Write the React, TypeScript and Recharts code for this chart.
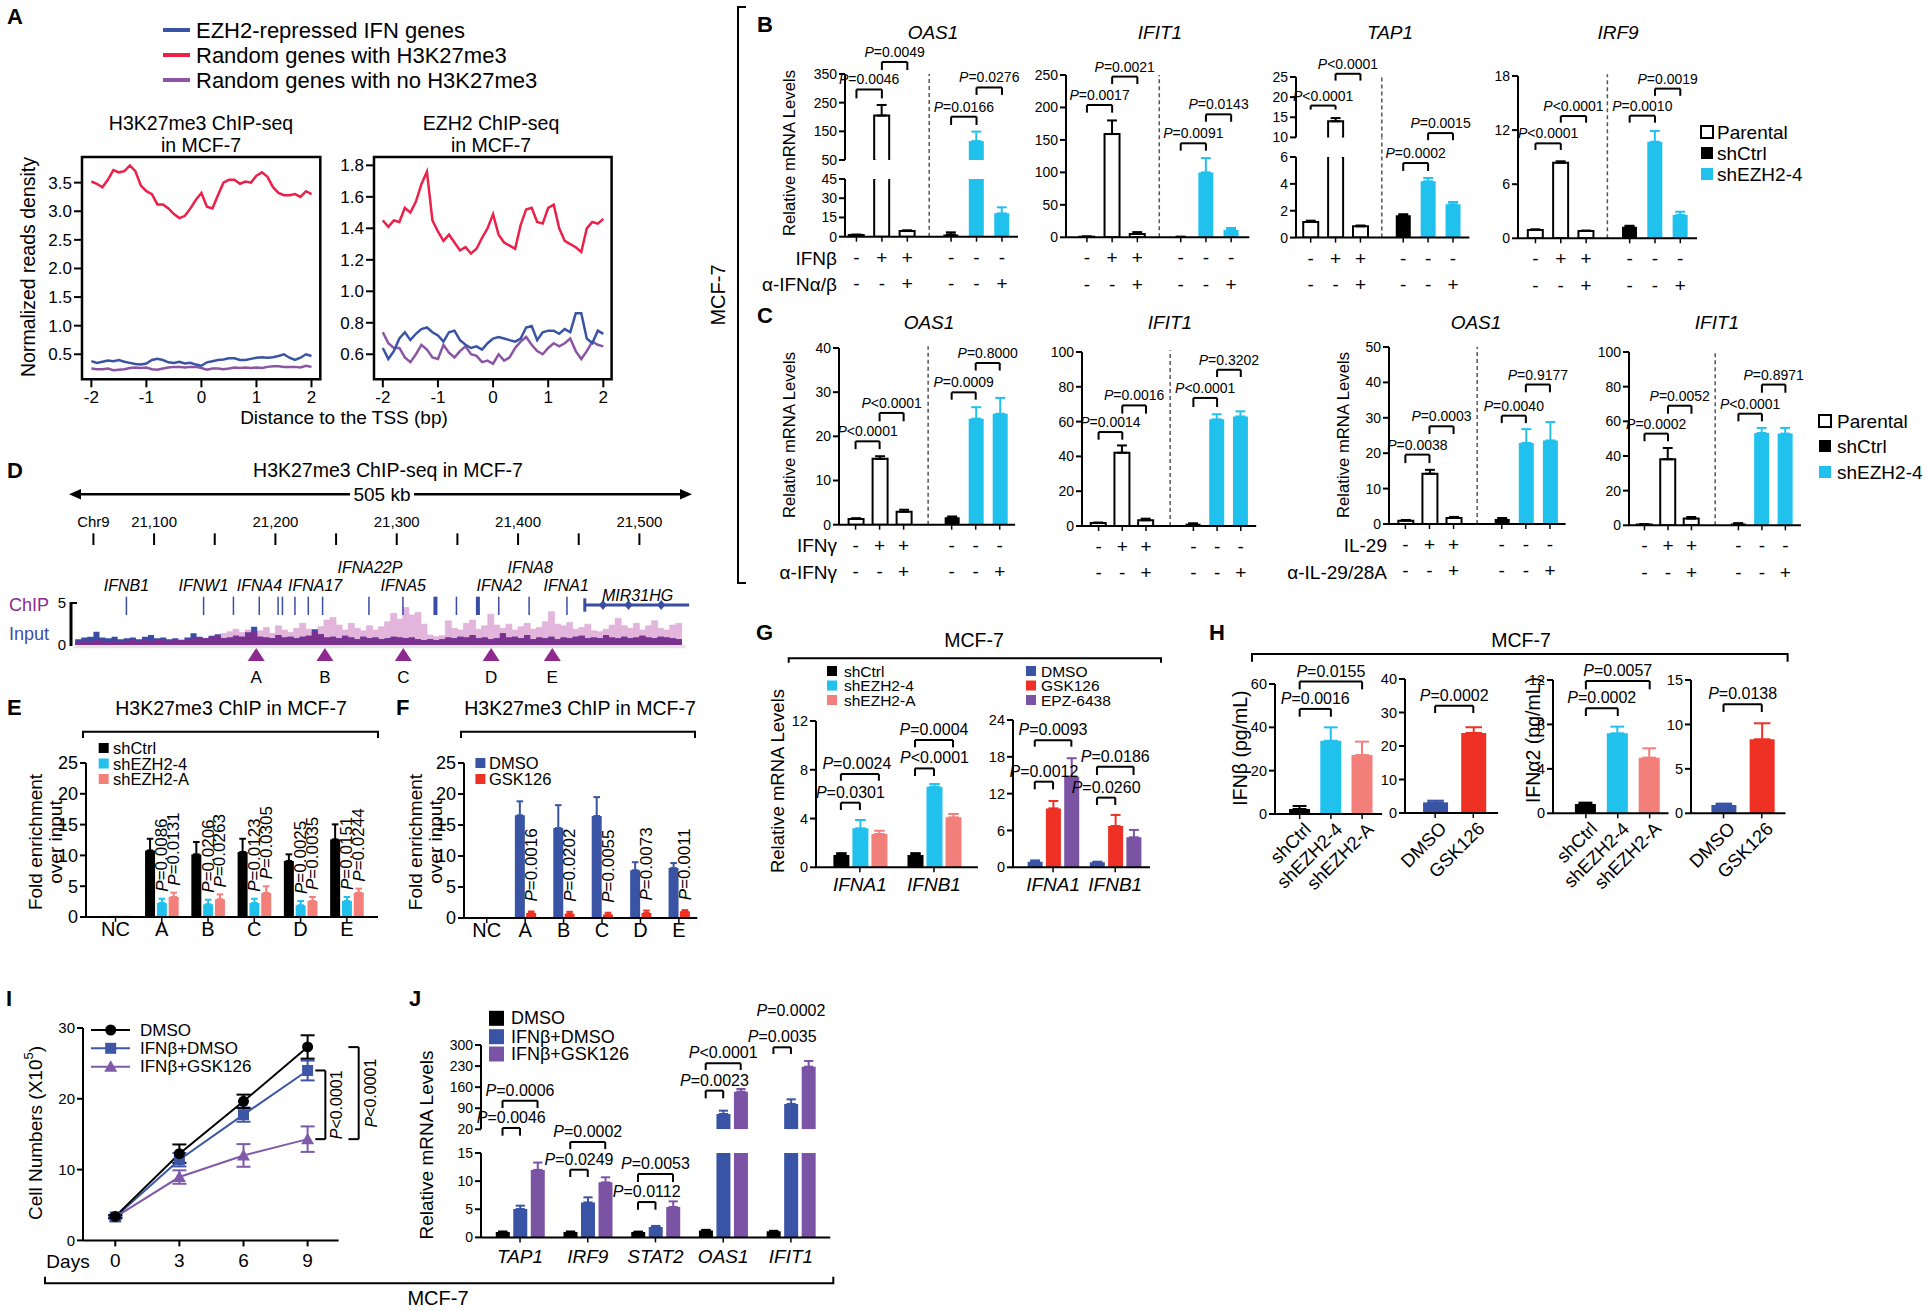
import React from 'react';
import {
  ComposedChart, Line, Bar, Area, Scatter, XAxis, YAxis, ErrorBar,
  ReferenceLine, ReferenceArea, LabelList,
} from 'recharts';

const FONT = '"Liberation Sans", Arial, Helvetica, sans-serif';

// ---------- A: ChIP-seq profiles around the TSS ----------
const tss = [-2, -1.9, -1.8, -1.7, -1.6, -1.5, -1.4, -1.3, -1.2, -1.1, -1, -0.9, -0.8, -0.7, -0.6, -0.5, -0.4, -0.3, -0.2, -0.1, 0, 0.1, 0.2, 0.3, 0.4, 0.5, 0.6, 0.7, 0.8, 0.9, 1, 1.1, 1.2, 1.3, 1.4, 1.5, 1.6, 1.7, 1.8, 1.9, 2];
const k27Rand = [3.52, 3.48, 3.42, 3.55, 3.72, 3.68, 3.7, 3.8, 3.7, 3.45, 3.35, 3.3, 3.12, 3.12, 3.05, 2.95, 2.88, 2.92, 3.05, 3.2, 3.32, 3.08, 3.05, 3.28, 3.5, 3.55, 3.55, 3.48, 3.52, 3.5, 3.62, 3.68, 3.6, 3.42, 3.32, 3.28, 3.28, 3.3, 3.25, 3.35, 3.3];
const k27Ifn = [0.38, 0.35, 0.37, 0.39, 0.38, 0.4, 0.37, 0.35, 0.33, 0.32, 0.34, 0.4, 0.42, 0.4, 0.36, 0.35, 0.37, 0.34, 0.35, 0.32, 0.3, 0.36, 0.38, 0.4, 0.41, 0.43, 0.43, 0.4, 0.4, 0.42, 0.44, 0.45, 0.44, 0.45, 0.47, 0.5, 0.44, 0.4, 0.44, 0.5, 0.47];
const k27None = [0.25, 0.24, 0.24, 0.25, 0.22, 0.23, 0.24, 0.26, 0.27, 0.26, 0.27, 0.24, 0.23, 0.25, 0.27, 0.28, 0.28, 0.27, 0.28, 0.28, 0.26, 0.23, 0.25, 0.25, 0.24, 0.25, 0.27, 0.26, 0.27, 0.26, 0.27, 0.26, 0.28, 0.29, 0.29, 0.28, 0.28, 0.28, 0.27, 0.3, 0.28];
const ezRand = [1.45, 1.41, 1.45, 1.44, 1.53, 1.5, 1.57, 1.68, 1.76, 1.45, 1.38, 1.32, 1.36, 1.31, 1.26, 1.28, 1.24, 1.27, 1.34, 1.4, 1.49, 1.36, 1.31, 1.29, 1.27, 1.42, 1.52, 1.53, 1.44, 1.43, 1.53, 1.55, 1.4, 1.32, 1.3, 1.28, 1.25, 1.4, 1.44, 1.43, 1.46];
const ezIfn = [0.64, 0.57, 0.62, 0.7, 0.74, 0.69, 0.73, 0.76, 0.77, 0.74, 0.72, 0.68, 0.74, 0.75, 0.69, 0.66, 0.64, 0.65, 0.63, 0.67, 0.7, 0.71, 0.7, 0.69, 0.68, 0.7, 0.77, 0.78, 0.69, 0.74, 0.75, 0.75, 0.73, 0.76, 0.74, 0.86, 0.86, 0.7, 0.67, 0.75, 0.73];
const ezNone = [0.74, 0.67, 0.64, 0.64, 0.58, 0.55, 0.6, 0.66, 0.63, 0.58, 0.57, 0.66, 0.61, 0.58, 0.62, 0.65, 0.6, 0.59, 0.55, 0.56, 0.54, 0.6, 0.56, 0.58, 0.64, 0.68, 0.71, 0.66, 0.62, 0.6, 0.64, 0.67, 0.65, 0.67, 0.7, 0.62, 0.57, 0.62, 0.68, 0.66, 0.65];

// ---------- B / C: treatments ----------
const treatRow1 = ['-', '+', '+', '-', '-', '-'];
const treatRow2 = ['-', '-', '+', '-', '-', '+'];
const treatKinds = ['w', 'w', 'w', 'k', 'c', 'c'];

const bOas1 = [1.3, 205, 4.4, 1.8, 116, 18.2];
const bOas1Err = [0.4, 37, 0.6, 1.6, 33, 4.7];
const bIfit1 = [1.0, 159, 5.0, 0.6, 100, 11.3];
const bIfit1Err = [0.3, 21, 3.0, 0.3, 22, 3.0];
const bTap1 = [1.16, 14.0, 0.84, 1.66, 4.19, 2.48];
const bTap1Err = [0.1, 0.8, 0.06, 0.08, 0.25, 0.17];
const bIrf9 = [0.92, 8.39, 0.81, 1.29, 10.71, 2.58];
const bIrf9Err = [0.08, 0.15, 0.05, 0.1, 1.2, 0.37];

const cOas1G = [1.28, 14.9, 2.94, 1.66, 24.0, 25.1];
const cOas1GErr = [0.2, 0.6, 0.45, 0.2, 2.6, 3.6];
const cIfit1G = [1.7, 42.1, 3.3, 1.3, 61.3, 63.0];
const cIfit1GErr = [0.3, 4.2, 0.9, 0.2, 2.9, 2.9];
const cOas1L = [0.94, 14.2, 1.7, 1.4, 22.9, 23.6];
const cOas1LErr = [0.2, 1.1, 0.3, 0.3, 3.9, 5.2];
const cIfit1L = [0.5, 38.1, 3.85, 1.0, 53.3, 52.9];
const cIfit1LErr = [0.1, 6.5, 0.95, 0.2, 2.9, 3.3];

// brackets: [barA, barB, height, legEnd, text, hidden, labelShiftPx]
const bOas1P = [[0, 1, 296, 265, '=0.0046'], [1, 2, 392, 364, '=0.0049'], [3, 4, 201, 172, '=0.0166'], [4, 5, 303, 277, '=0.0276']];
const bIfit1P = [[0, 1, 203.8, 192, '=0.0017'], [1, 2, 247.5, 236, '=0.0021'], [3, 4, 144.8, 133.5, '=0.0091'], [4, 5, 189.4, 178, '=0.0143']];
const bTap1PUp = [[0, 1, 17.9, 16.9, '<0.0001'], [1, 2, 25.8, 24.1, '<0.0001']];
const bTap1PLow = [[3, 4, 5.55, 4.96, '=0.0002'], [4, 5, 7.78, 7.25, '=0.0015']];
const bIrf9P = [[0, 1, 10.53, 9.8, '<0.0001'], [1, 2, 13.56, 12.82, '<0.0001'], [3, 4, 13.6, 12.82, '=0.0010'], [4, 5, 16.6, 15.8, '=0.0019']];
const cOas1GP = [[0, 1, 18.87, 17.1, '<0.0001'], [1, 2, 25.3, 23.4, '<0.0001'], [3, 4, 29.96, 28.3, '=0.0009'], [4, 5, 36.6, 34.9, '=0.8000']];
const cIfit1GP = [[0, 1, 54.0, 49.6, '=0.0014'], [1, 2, 69.3, 64.6, '=0.0016'], [3, 4, 73.6, 68.4, '<0.0001'], [4, 5, 89.8, 85.6, '=0.3202']];
const cOas1LP = [[0, 1, 19.6, 17.2, '=0.0038'], [1, 2, 27.6, 25.4, '=0.0003'], [3, 4, 30.6, 28.5, '=0.0040'], [4, 5, 39.4, 37.2, '=0.9177']];
const cIfit1LP = [[0, 1, 52.9, 48.5, '=0.0002'], [1, 2, 69.0, 64.4, '=0.0052'], [3, 4, 64.4, 60.0, '<0.0001'], [4, 5, 81.2, 76.5, '=0.8971']];

// ---------- D: genome track ----------
const dKb = [21035, 21040, 21045, 21050, 21055, 21060, 21065, 21070, 21075, 21080,
  21085, 21090, 21095, 21100, 21105, 21110, 21115, 21120, 21125, 21130,
  21135, 21140, 21145, 21150, 21155, 21160, 21165, 21170, 21175, 21180,
  21185, 21190, 21195, 21200, 21205, 21210, 21215, 21220, 21225, 21230,
  21235, 21240, 21245, 21250, 21255, 21260, 21265, 21270, 21275, 21280,
  21285, 21290, 21295, 21300, 21305, 21310, 21315, 21320, 21325, 21330,
  21335, 21340, 21345, 21350, 21355, 21360, 21365, 21370, 21375, 21380,
  21385, 21390, 21395, 21400, 21405, 21410, 21415, 21420, 21425, 21430,
  21435, 21440, 21445, 21450, 21455, 21460, 21465, 21470, 21475, 21480,
  21485, 21490, 21495, 21500, 21505, 21510, 21515, 21520, 21525, 21530, 21535];
const dInput = [0.7, 0.9, 1.0, 1.6, 0.9, 0.8, 1.0, 0.7, 0.8, 0.9,
  0.7, 1.0, 1.2, 0.8, 0.9, 0.7, 0.8, 0.6, 0.9, 1.4,
  1.0, 0.8, 1.1, 1.3, 0.8, 0.9, 1.1, 1.0, 1.5, 2.2,
  1.0, 0.9, 0.8, 1.2, 0.9, 1.0, 0.8, 1.0, 1.1, 1.9,
  1.3, 0.9, 1.0, 0.8, 1.1, 0.9, 0.7, 1.0, 0.8, 0.9,
  0.7, 0.8, 1.0, 0.9, 0.8, 0.9, 0.7, 0.6, 0.7, 0.6,
  0.7, 0.9, 0.8, 1.0, 0.9, 1.2, 0.8, 0.9, 0.7, 0.8,
  1.4, 0.9, 1.0, 0.8, 1.2, 0.7, 0.9, 0.8, 1.0, 0.7,
  0.9, 0.8, 1.0, 1.1, 0.8, 0.9, 0.8, 1.2, 0.9, 0.8,
  1.0, 0.8, 0.9, 1.1, 0.9, 0.8, 1.0, 0.9, 0.8, 0.7, 0.8];
const dChip = [0.4, 0.5, 0.4, 0.6, 0.5, 0.4, 0.5, 0.4, 0.5, 0.6,
  0.5, 0.6, 0.5, 0.6, 0.7, 0.5, 0.6, 0.7, 0.6, 0.8,
  0.9, 0.8, 1.0, 1.2, 1.4, 1.6, 1.9, 1.5, 1.8, 1.6,
  1.7, 2.1, 1.4, 2.3, 1.8, 1.5, 2.0, 2.6, 1.9, 1.6,
  2.2, 3.0, 3.3, 2.4, 1.8, 2.6, 2.0, 1.7, 2.3, 1.8,
  2.2, 2.8, 3.8, 3.1, 4.5, 3.6, 3.9, 2.5, 1.2, 1.0,
  1.1, 2.9, 2.0, 1.8, 2.6, 3.0, 1.9, 2.3, 3.7, 2.4,
  2.0, 2.5, 1.8, 2.2, 2.6, 1.9, 2.1, 2.8, 4.0, 2.5,
  2.3, 2.7, 1.9, 2.1, 2.5, 1.7, 1.6, 1.9, 2.4, 3.2,
  2.3, 2.0, 2.6, 1.8, 2.3, 2.9, 2.0, 1.8, 2.4, 2.6, 1.7];
const dRuler = [21050, 21100, 21150, 21200, 21250, 21300, 21350, 21400, 21450, 21500];
const dRulerLabels = ['Chr9', '21,100', '', '21,200', '', '21,300', '', '21,400', '', '21,500'];
const dGeneTicks = [21077.2, 21140.8, 21165.4, 21186.7, 21202.2, 21205.8, 21216.1, 21227.1, 21238.9, 21277.1, 21305.1, 21331.9, 21349.2, 21366.9, 21384.1, 21409.1, 21440.3];
const dGeneWide = [21331.9, 21366.9];
const dGeneNames = ['IFNB1', 'IFNW1', 'IFNA4', 'IFNA17', 'IFNA22P', 'IFNA5', 'IFNA2', 'IFNA8', 'IFNA1', 'MIR31HG'];
const dGeneNameKb = [21077.2, 21140.7, 21186.8, 21232.7, 21277.9, 21305.4, 21384.4, 21410, 21439.6, 21498.5];
const dGeneNameRow = [1, 1, 1, 1, 2, 1, 1, 2, 1, 0];
const dMir = [21455, 21541];
const dMirExons = [21470, 21491, 21518];
const dPeakNames = ['A', 'B', 'C', 'D', 'E'];
const dPeakKb = [21184.2, 21240.8, 21305.4, 21377.8, 21428.2];

// ---------- E / F: ChIP-qPCR ----------
const eGroups = ['NC', 'A', 'B', 'C', 'D', 'E'];
const eShCtrl = [0.1, 10.8, 10.17, 10.55, 9.09, 12.6];
const eShCtrlErr = [0, 1.9, 2.0, 2.15, 1.08, 2.44];
const eSh4 = [0.2, 2.27, 2.06, 2.27, 1.9, 2.6];
const eSh4Err = [0, 0.7, 0.75, 0.7, 0.7, 0.65];
const eShA = [0.2, 3.25, 2.87, 3.9, 2.6, 3.95];
const eShAErr = [0, 0.7, 0.8, 1.08, 0.65, 0.65];
const eP4 = ['', '=0.0086', '=0.0206', '=0.0123', '=0.0025', '=0.0151'];
const ePA = ['', '=0.0131', '=0.0263', '=0.0305', '=0.0035', '=0.0244'];
const fDmso = [0.1, 16.56, 14.5, 16.45, 7.7, 8.06];
const fDmsoErr = [0, 2.26, 3.7, 3.05, 1.3, 0.8];
const fGsk = [0.1, 0.8, 0.7, 0.55, 0.8, 1.07];
const fGskErr = [0, 0.25, 0.3, 0.3, 0.4, 0.2];
const fP = ['', '=0.0016', '=0.0202', '=0.0055', '=0.0073', '=0.0011'];

// ---------- G: IFN mRNA ----------
const gGenes = ['IFNA1', 'IFNB1'];
const gShCtrl = [1.01, 1.01]; const gShCtrlErr = [0.15, 0.15];
const gSh4 = [3.2, 6.61]; const gSh4Err = [0.68, 0.22];
const gShA = [2.73, 4.1]; const gShAErr = [0.27, 0.27];
const gDmso = [0.92, 0.81]; const gDmsoErr = [0.2, 0.1];
const gGsk = [9.6, 6.73]; const gGskErr = [1.2, 1.8];
const gEpz = [14.77, 4.89]; const gEpzErr = [3.0, 1.2];
const gKnockP = [[0, 1, 5.3, 4.7, '=0.0301'], [0, 2, 7.65, 7.1, '=0.0024', false, -3], [3, 4, 8.11, 7.49, '<0.0001', false, 10], [3, 5, 10.44, 9.84, '=0.0004']];
const gDrugP = [[0, 1, 13.95, 12.7, '=0.0012'], [0, 2, 20.7, 19.65, '=0.0093'], [3, 4, 11.35, 10.15, '=0.0260'], [3, 5, 16.4, 15.04, '=0.0186']];

// ---------- H: ELISA ----------
const hKnock = ['shCtrl', 'shEZH2-4', 'shEZH2-A'];
const hDrug = ['DMSO', 'GSK126'];
const hIfnbKnock = [2.3, 33.8, 27.2]; const hIfnbKnockErr = [1.4, 6.2, 6.2];
const hIfnbDrug = [3.18, 23.9]; const hIfnbDrugErr = [0.5, 1.7];
const hIfnaKnock = [0.84, 7.2, 5.01]; const hIfnaKnockErr = [0.12, 0.6, 0.84];
const hIfnaDrug = [0.94, 8.33]; const hIfnaDrugErr = [0.15, 1.8];
const hP1 = [[0, 1, 48.5, 44.9, '=0.0016'], [0, 2, 61.1, 57.5, '=0.0155']];
const hP2 = [[0, 1, 32.0, 29.85, '=0.0002']];
const hP3 = [[0, 1, 9.45, 8.76, '=0.0002'], [0, 2, 11.91, 11.16, '=0.0057']];
const hP4 = [[0, 1, 12.26, 11.4, '=0.0138']];

// ---------- I: growth ----------
const days = [0, 3, 6, 9];
const iDmso = [3.39, 12.25, 19.64, 27.32]; const iDmsoErr = [0.2, 1.3, 0.95, 1.65];
const iIfnDmso = [3.3, 11.4, 17.76, 24.0]; const iIfnDmsoErr = [0.2, 0.95, 1.0, 1.4];
const iIfnGsk = [3.3, 8.95, 12.0, 14.3]; const iIfnGskErr = [0.2, 0.95, 1.6, 1.8];

// ---------- J: ISG mRNA ----------
const jGenes = ['TAP1', 'IRF9', 'STAT2', 'OAS1', 'IFIT1'];
const jDmso = [0.95, 0.95, 0.95, 1.24, 1.07]; const jDmsoErr = [0.1, 0.1, 0.08, 0.1, 0.1];
const jIfnDmso = [5.04, 6.22, 1.84, 70.9, 104]; const jIfnDmsoErr = [0.6, 0.9, 0.2, 11, 15.5];
const jIfnGsk = [12.0, 9.78, 5.4, 145, 228]; const jIfnGskErr = [1.3, 0.9, 1.0, 9, 19];
const jPLow = [[0, 1, 19.44, 18.08, '=0.0046'], [0, 2, 24.3, 23.0, '=0.0006'], [3, 4, 12.03, 10.73, '=0.0249'], [3, 5, 16.95, 15.7, '=0.0002'], [6, 7, 6.28, 4.92, '=0.0112'], [6, 8, 11.26, 9.84, '=0.0053']];
const jPUp = [[9, 10, 148.4, 122.9, '=0.0023'], [9, 11, 239.1, 217, '<0.0001'], [12, 13, 292.3, 270, '=0.0035'], [12, 14, 380, 360, '=0.0002', true]];

const KIND: Record<string, any> = {
  w: { fill: '#ffffff', stroke: '#000000', sw: 2, err: '#000000' },
  k: { fill: '#000000', stroke: 'none', sw: 0, err: '#000000' },
  c: { fill: '#21c1ee', stroke: 'none', sw: 0, err: '#21c1ee' },
  s: { fill: '#f37f7b', stroke: 'none', sw: 0, err: '#f37f7b' },
  b: { fill: '#3a54a5', stroke: 'none', sw: 0, err: '#3a54a5' },
  r: { fill: '#ee3124', stroke: 'none', sw: 0, err: '#ee3124' },
  p: { fill: '#7b53a4', stroke: 'none', sw: 0, err: '#7b53a4' },
};

const PLabel = (props: any) => {
  const vb = props.viewBox || {};
  const cx = (vb.x ?? 0) + (vb.width ?? 0) / 2 + (props.dx ?? 0);
  return (
    <text x={cx} y={(vb.y ?? 0) - 5} textAnchor="middle" fontSize={props.size ?? 14} fontFamily={FONT} fill="#000">
      <tspan fontStyle="italic">P</tspan>{props.text}
    </text>
  );
};

const VLabel = (props: any) => {
  const vb = props.viewBox || {};
  const x = (vb.x ?? 0) + (props.dx ?? 12);
  const y = (vb.y ?? 0) + (vb.height ?? 0) / 2;
  return (
    <text x={x} y={y} transform={`rotate(-90 ${x} ${y})`} textAnchor="middle" dominantBaseline="central" fontSize={16} fontFamily={FONT} fill="#000">
      <tspan fontStyle="italic">P</tspan>{props.text}
    </text>
  );
};

const condTick = (r1: string[], r2: string[]) => (tp: any) => (
  <g key={`ct${tp.index}`}>
    <text x={tp.x} y={tp.y + 13.5} textAnchor="middle" dominantBaseline="central" fontSize={19} fontFamily={FONT} fill="#000">{r1[tp.index]}</text>
    <text x={tp.x} y={tp.y + 40} textAnchor="middle" dominantBaseline="central" fontSize={19} fontFamily={FONT} fill="#000">{r2[tp.index]}</text>
  </g>
);

const rotTick = (labels: string[]) => (tp: any) => {
  const x = tp.x + 8, y = tp.y + 5;
  return (
    <text key={`rt${tp.index}`} x={x} y={y} transform={`rotate(-45 ${x} ${y})`} textAnchor="end" dominantBaseline="central" fontSize={18.5} fontFamily={FONT} fill="#000">{labels[tp.index]}</text>
  );
};

function BarPlot(p: any) {
  const [x0, y0, x1, y1] = p.box;
  const pt = 80, pr = 20, pb = 60, pl = 50;
  const w = x1 - x0 + pl + pr;
  const h = y1 - y0 + pt + (p.hideX ? 0 : pb);
  const kinds: string[] = Array.from(new Set(p.kinds));
  const kindRows: Record<string, number[]> = {};
  p.kinds.forEach((k: string, i: number) => { (kindRows[k] = kindRows[k] || []).push(i); });
  const rows = p.xs.map((x: number, i: number) => {
    const r: any = { x };
    const k = p.kinds[i];
    const v = p.vals[i];
    r[k] = v;
    if (p.errs[i] > 0 && v >= p.yd[0] && v <= p.yd[1]) r[k + 'E'] = [0, p.errs[i]];
    return r;
  });
  // open ends of outlined bars that run through an axis break
  const pxPerUnit = (x1 - x0) / (p.xd[1] - p.xd[0]);
  const covers: any[] = [];
  p.kinds.forEach((k: string, i: number) => {
    if (k !== 'w') return;
    const v = p.vals[i];
    const hw = (p.bw / 2 - 1.2) / pxPerUnit;
    if (v > p.yd[1]) covers.push({ x: p.xs[i], y: p.yd[1], hw });
    if (p.hideX && v > p.yd[0]) covers.push({ x: p.xs[i], y: p.yd[0], hw });
  });
  const brs = p.br ?? [];
  return (
    <div style={{ position: 'absolute', left: x0 - pl, top: y0 - pt }}>
      <ComposedChart width={w} height={h} data={rows} margin={{ top: pt, right: pr, bottom: 0, left: 0 }}>
        <XAxis type="number" dataKey="x" domain={p.xd} ticks={p.xt ?? p.xs} interval={0} allowDataOverflow hide={!!p.hideX}
          height={pb} tick={p.tick ?? false} tickFormatter={p.tickFmt} tickMargin={p.tickMargin ?? 2}
          axisLine={{ stroke: '#000', strokeWidth: 2 }} tickLine={{ stroke: '#000', strokeWidth: 1.5 }} tickSize={5} />
        <YAxis type="number" domain={p.yd} ticks={p.yt} interval={0} allowDataOverflow width={pl}
          tick={{ fontSize: p.yFont ?? 14, fill: '#000', fontFamily: FONT }}
          axisLine={{ stroke: '#000', strokeWidth: 2 }} tickLine={{ stroke: '#000', strokeWidth: 2 }} tickSize={6} />
        {p.dash && (
          <ReferenceLine segment={[{ x: p.dash[0], y: p.dash[1] }, { x: p.dash[0], y: p.dash[2] }]}
            stroke="#555" strokeDasharray="4 3" strokeWidth={1.5} ifOverflow="visible" />
        )}
        {kinds.map((k) => (
          <Bar key={k} dataKey={k} stackId="s" barSize={p.bw} fill={KIND[k].fill} stroke={KIND[k].stroke}
            strokeWidth={KIND[k].sw} isAnimationActive={false}>
            <ErrorBar dataKey={k + 'E'} width={p.bw * 0.33} stroke={KIND[k].err} strokeWidth={2} direction="y" />
            {p.vlab && (
              <LabelList content={(lp: any) => {
                const i = kindRows[k][lp.index];
                if (i === undefined) return null;
                const t = p.vlab[i];
                if (!t) return null;
                const x = Number(lp.x) + Number(lp.width) / 2;
                const ppu = Number(lp.height) / p.vals[i];
                const y = Number(lp.y) - p.errs[i] * ppu - (p.vGap ?? 7);
                return (
                  <text key={`vl${i}`} x={x} y={y} transform={`rotate(-90 ${x} ${y})`} textAnchor="start"
                    dominantBaseline="central" fontSize={17} fontFamily={FONT} fill="#000">
                    <tspan fontStyle="italic">P</tspan>{t}
                  </text>
                );
              }} />
            )}
          </Bar>
        ))}
        {covers.map((c, i) => (
          <ReferenceLine key={`cv${i}`} segment={[{ x: c.x - c.hw, y: c.y }, { x: c.x + c.hw, y: c.y }]}
            stroke="#fff" strokeWidth={3.5} ifOverflow="visible" />
        ))}
        {brs.map((b: any, i: number) => {
          const xa = p.xs[b[0]], xb = p.xs[b[1]];
          const st = b[5] ? 'none' : '#000';
          return [
            <ReferenceLine key={`h${i}`} segment={[{ x: xa, y: b[2] }, { x: xb, y: b[2] }]} stroke={st} strokeWidth={2}
              ifOverflow="visible" label={<PLabel text={b[4]} size={p.pSize ?? 14} dx={b[6] ?? 0} />} />,
            <ReferenceLine key={`a${i}`} segment={[{ x: xa, y: b[2] }, { x: xa, y: b[3] }]} stroke={st} strokeWidth={2} ifOverflow="visible" />,
            <ReferenceLine key={`b${i}`} segment={[{ x: xb, y: b[2] }, { x: xb, y: b[3] }]} stroke={st} strokeWidth={2} ifOverflow="visible" />,
          ];
        })}
      </ComposedChart>
    </div>
  );
}

function TreatPanel(p: any) {
  const g = p.gap;
  const xs = [0, 1, 2, 2 + g, 3 + g, 4 + g];
  const tick = condTick(treatRow1, treatRow2);
  return (
    <>
      <BarPlot box={p.box} xs={xs} xd={p.xd} yd={p.yd} yt={p.yt} vals={p.vals} errs={p.errs} kinds={treatKinds}
        bw={15} br={p.br} dash={p.dash} tick={tick} />
      {p.ubox && (
        <BarPlot box={p.ubox} xs={xs} xd={p.xd} yd={p.uyd} yt={p.uyt} vals={p.vals} errs={p.errs} kinds={treatKinds}
          bw={15} br={p.ubr} dash={p.udash} hideX />
      )}
    </>
  );
}

function Profile(p: any) {
  const [x0, y0, x1, y1] = p.box;
  const pl = 50, pt = 10, pb = 40, pr = 10;
  const rows = tss.map((x, i) => ({ x, ifn: p.ifn[i], rand: p.rand[i], none: p.none[i] }));
  return (
    <div style={{ position: 'absolute', left: x0 - pl, top: y0 - pt }}>
      <ComposedChart width={x1 - x0 + pl + pr} height={y1 - y0 + pt + pb} data={rows} margin={{ top: pt, right: pr, bottom: 0, left: 0 }}>
        <XAxis type="number" dataKey="x" domain={p.xd} ticks={[-2, -1, 0, 1, 2]} interval={0} allowDataOverflow height={pb}
          axisLine={false} tickLine={{ stroke: '#000', strokeWidth: 2 }} tickSize={8} tickMargin={4}
          tick={{ fontSize: 17, fill: '#000', fontFamily: FONT }} />
        <YAxis type="number" domain={p.yd} ticks={p.yt} interval={0} allowDataOverflow width={pl}
          axisLine={false} tickLine={{ stroke: '#000', strokeWidth: 2 }} tickSize={8}
          tick={{ fontSize: 17, fill: '#000', fontFamily: FONT }} tickFormatter={(v: number) => v.toFixed(1)} />
        <ReferenceArea x1={p.xd[0]} x2={p.xd[1]} y1={p.yd[0]} y2={p.yd[1]} fill="none" fillOpacity={0} stroke="#000" strokeWidth={2.5} ifOverflow="visible" />
        <Line dataKey="none" stroke="#8b55a3" strokeWidth={2.5} dot={false} isAnimationActive={false} />
        <Line dataKey="ifn" stroke="#3a54a5" strokeWidth={2.5} dot={false} isAnimationActive={false} />
        <Line dataKey="rand" stroke="#ec2049" strokeWidth={2.5} dot={false} isAnimationActive={false} />
      </ComposedChart>
    </div>
  );
}

function Track() {
  const x0 = 73.7, x1 = 685.2, y0 = 480, y1 = 690;
  const rows = dKb.map((kb, i) => ({ kb, chip: dChip[i], input: dInput[i], both: Math.min(dChip[i], dInput[i]) }));
  const rulerPts = dRuler.map((kb, i) => ({ kb, y: 14.8, name: dRulerLabels[i] }));
  const genePts = dGeneNameKb.map((kb, i) => ({ kb, y: dGeneNameRow[i] === 2 ? 9.32 : dGeneNameRow[i] === 1 ? 7.19 : 6.0, name: dGeneNames[i] }));
  const peakPts = dPeakKb.map((kb, i) => ({ kb, y: -1.2, name: dPeakNames[i] }));
  const exonPts = dMirExons.map((kb) => ({ kb, y: 4.8 }));
  const textShape = (italic: boolean, size: number) => (sp: any) => (
    <text x={sp.cx} y={sp.cy} textAnchor="middle" dominantBaseline="central" fontSize={size} fontStyle={italic ? 'italic' : 'normal'} fontFamily={FONT} fill="#000">{sp.payload.name}</text>
  );
  return (
    <div style={{ position: 'absolute', left: x0, top: y0 }}>
      <ComposedChart width={x1 - x0} height={y1 - y0} data={rows} margin={{ top: 0, right: 0, bottom: 0, left: 0 }}>
        <XAxis type="number" dataKey="kb" domain={[21034, 21538]} hide allowDataOverflow />
        <YAxis type="number" domain={[-5.4, 19.8]} hide allowDataOverflow />
        <ReferenceArea x1={21034} x2={21538} y1={-0.4} y2={0} fill="#c9c9c9" stroke="none" ifOverflow="visible" />
        <Area type="stepAfter" dataKey="chip" baseValue={0} fill="#e3b5dc" stroke="#d9a5d1" strokeWidth={0.5} fillOpacity={1} isAnimationActive={false} />
        <Area type="stepAfter" dataKey="input" baseValue={0} fill="#3a4da4" stroke="none" fillOpacity={1} isAnimationActive={false} />
        <Area type="stepAfter" dataKey="both" baseValue={0} fill="#7b3190" stroke="none" fillOpacity={1} isAnimationActive={false} />
        {dRuler.map((kb) => (
          <ReferenceLine key={`r${kb}`} segment={[{ x: kb, y: 12.0 }, { x: kb, y: 13.4 }]} stroke="#000" strokeWidth={2} ifOverflow="visible" />
        ))}
        {dGeneTicks.map((kb) => (
          <ReferenceLine key={`g${kb}`} segment={[{ x: kb, y: 3.6 }, { x: kb, y: 5.8 }]} stroke="#3a4da4"
            strokeWidth={dGeneWide.includes(kb) ? 4 : 1.5} ifOverflow="visible" />
        ))}
        <ReferenceLine segment={[{ x: dMir[0], y: 4.8 }, { x: dMir[1], y: 4.8 }]} stroke="#3a4da4" strokeWidth={3} ifOverflow="visible" />
        <ReferenceLine segment={[{ x: dMir[0], y: 4.0 }, { x: dMir[0], y: 5.6 }]} stroke="#3a4da4" strokeWidth={3} ifOverflow="visible" />
        <Scatter data={exonPts} dataKey="y" isAnimationActive={false}
          shape={(sp: any) => <path d={`M${sp.cx},${sp.cy - 5} L${sp.cx + 4},${sp.cy} L${sp.cx},${sp.cy + 5} L${sp.cx - 4},${sp.cy} Z`} fill="#3a4da4" />} />
        <Scatter data={rulerPts} dataKey="y" isAnimationActive={false} shape={textShape(false, 15)} />
        <Scatter data={genePts} dataKey="y" isAnimationActive={false} shape={textShape(true, 16)} />
        <Scatter data={peakPts} dataKey="y" isAnimationActive={false}
          shape={(sp: any) => (
            <g>
              <path d={`M${sp.cx - 8.5},${sp.cy + 6} L${sp.cx + 8.5},${sp.cy + 6} L${sp.cx},${sp.cy - 7} Z`} fill="#8e2a8f" />
              <text x={sp.cx} y={sp.cy + 22} textAnchor="middle" dominantBaseline="central" fontSize={17} fontFamily={FONT} fill="#000">{sp.payload.name}</text>
            </g>
          )} />
      </ComposedChart>
    </div>
  );
}

function Growth() {
  const x0 = 82.7, y0 = 1028.3, x1 = 338.3, y1 = 1240.7;
  const pl = 45, pt = 15, pb = 45, pr = 80;
  const rows = days.map((d, i) => ({
    d, a: iDmso[i], ae: iDmsoErr[i], b: iIfnDmso[i], be: iIfnDmsoErr[i], c: iIfnGsk[i], ce: iIfnGskErr[i],
  }));
  const seg = (xa: number, ya: number, xb: number, yb: number, key: string, label?: any) => (
    <ReferenceLine key={key} segment={[{ x: xa, y: ya }, { x: xb, y: yb }]} stroke="#000" strokeWidth={2} ifOverflow="visible" label={label} />
  );
  return (
    <div style={{ position: 'absolute', left: x0 - pl, top: y0 - pt }}>
      <ComposedChart width={x1 - x0 + pl + pr} height={y1 - y0 + pt + pb} data={rows} margin={{ top: pt, right: pr, bottom: 0, left: 0 }}>
        <XAxis type="number" dataKey="d" domain={[-1.51, 10.45]} ticks={days} interval={0} allowDataOverflow height={pb}
          axisLine={{ stroke: '#000', strokeWidth: 2 }} tickLine={{ stroke: '#000', strokeWidth: 2 }} tickSize={6} tickMargin={7}
          tick={{ fontSize: 19, fill: '#000', fontFamily: FONT }} />
        <YAxis type="number" domain={[0, 30]} ticks={[0, 10, 20, 30]} interval={0} allowDataOverflow width={pl}
          axisLine={{ stroke: '#000', strokeWidth: 2 }} tickLine={{ stroke: '#000', strokeWidth: 2 }} tickSize={6}
          tick={{ fontSize: 15, fill: '#000', fontFamily: FONT }} />
        <Line dataKey="c" stroke="#7f5aa8" strokeWidth={2} isAnimationActive={false}
          dot={(dp: any) => <path key={`t${dp.index}`} d={`M${dp.cx - 6.5},${dp.cy + 5} L${dp.cx + 6.5},${dp.cy + 5} L${dp.cx},${dp.cy - 6.5} Z`} fill="#7f5aa8" />}>
          <ErrorBar dataKey="ce" width={7} stroke="#7f5aa8" strokeWidth={2} direction="y" />
        </Line>
        <Line dataKey="b" stroke="#3d56a6" strokeWidth={2} isAnimationActive={false}
          dot={(dp: any) => <rect key={`s${dp.index}`} x={dp.cx - 5.5} y={dp.cy - 5.5} width={11} height={11} fill="#3d56a6" />}>
          <ErrorBar dataKey="be" width={7} stroke="#3d56a6" strokeWidth={2} direction="y" />
        </Line>
        <Line dataKey="a" stroke="#000" strokeWidth={2} isAnimationActive={false}
          dot={(dp: any) => <circle key={`c${dp.index}`} cx={dp.cx} cy={dp.cy} r={5.5} fill="#000" />}>
          <ErrorBar dataKey="ae" width={7} stroke="#000" strokeWidth={2} direction="y" />
        </Line>
        {seg(9.36, 24.0, 9.83, 24.0, 's1')}
        {seg(9.36, 14.3, 9.83, 14.3, 's2')}
        {seg(9.83, 24.0, 9.83, 14.3, 's3', <VLabel text="<0.0001" dx={11} />)}
        {seg(10.91, 27.3, 11.39, 27.3, 's4')}
        {seg(10.91, 14.3, 11.39, 14.3, 's5')}
        {seg(11.39, 27.3, 11.39, 14.3, 's6', <VLabel text="<0.0001" dx={12} />)}
      </ComposedChart>
    </div>
  );
}

function Txt({ x, y, s = 16, a = 'start', b = false, it = false, r = 0, c = '#000', children }: any) {
  return (
    <text x={x} y={y} fontSize={s} textAnchor={a} fontWeight={b ? 700 : 400} fontStyle={it ? 'italic' : 'normal'} fill={c}
      dominantBaseline="central" fontFamily={FONT} transform={r ? `rotate(${r} ${x} ${y})` : undefined}>{children}</text>
  );
}

function Sq({ x, y, s, k, label, tx, fs }: any) {
  const st = KIND[k];
  return (
    <g>
      <rect x={x} y={y - s / 2} width={s} height={s} fill={st.fill} stroke={k === 'w' ? '#000' : 'none'} strokeWidth={k === 'w' ? 2 : 0} />
      <Txt x={tx} y={y} s={fs}>{label}</Txt>
    </g>
  );
}

function Overlay() {
  const path = (d: string, w = 2) => <path d={d} fill="none" stroke="#000" strokeWidth={w} />;
  return (
    <svg width={1930} height={1311} style={{ position: 'absolute', left: 0, top: 0, pointerEvents: 'none' }}>
      {/* panel letters */}
      <Txt x={7} y={16} s={22} b>A</Txt>
      <Txt x={757} y={24} s={22} b>B</Txt>
      <Txt x={757} y={315} s={22} b>C</Txt>
      <Txt x={7} y={470} s={22} b>D</Txt>
      <Txt x={7} y={707} s={22} b>E</Txt>
      <Txt x={396} y={707} s={22} b>F</Txt>
      <Txt x={756} y={632} s={22} b>G</Txt>
      <Txt x={1209} y={632} s={22} b>H</Txt>
      <Txt x={6} y={998} s={22} b>I</Txt>
      <Txt x={409} y={998} s={22} b>J</Txt>

      {/* A */}
      <line x1={163} x2={190} y1={30} y2={30} stroke="#3a54a5" strokeWidth={4} />
      <line x1={163} x2={190} y1={55} y2={55} stroke="#ec2049" strokeWidth={4} />
      <line x1={163} x2={190} y1={80} y2={80} stroke="#8b55a3" strokeWidth={4} />
      <Txt x={196} y={30} s={22}>EZH2-repressed IFN genes</Txt>
      <Txt x={196} y={55} s={22}>Random genes with H3K27me3</Txt>
      <Txt x={196} y={80} s={22}>Random genes with no H3K27me3</Txt>
      <Txt x={201} y={123} s={19.5} a="middle">H3K27me3 ChIP-seq</Txt>
      <Txt x={201} y={145} s={19.5} a="middle">in MCF-7</Txt>
      <Txt x={491} y={123} s={19.5} a="middle">EZH2 ChIP-seq</Txt>
      <Txt x={491} y={145} s={19.5} a="middle">in MCF-7</Txt>
      <Txt x={344} y={417} s={19} a="middle">Distance to the TSS (bp)</Txt>
      <Txt x={28} y={267} s={19.5} a="middle" r={-90}>Normalized reads density</Txt>

      {/* B / C */}
      {path('M746,7 H738 V583 H746')}
      <Txt x={718} y={295} s={20} a="middle" r={-90}>MCF-7</Txt>
      <Txt x={933} y={32} s={19} a="middle" it>OAS1</Txt>
      <Txt x={1160} y={32} s={19} a="middle" it>IFIT1</Txt>
      <Txt x={1390} y={32} s={19} a="middle" it>TAP1</Txt>
      <Txt x={1618} y={32} s={19} a="middle" it>IRF9</Txt>
      <Txt x={929} y={322} s={19} a="middle" it>OAS1</Txt>
      <Txt x={1170} y={322} s={19} a="middle" it>IFIT1</Txt>
      <Txt x={1476} y={322} s={19} a="middle" it>OAS1</Txt>
      <Txt x={1717} y={322} s={19} a="middle" it>IFIT1</Txt>
      <Txt x={789} y={153} s={16.7} a="middle" r={-90}>Relative mRNA Levels</Txt>
      <Txt x={789} y={435} s={16.7} a="middle" r={-90}>Relative mRNA Levels</Txt>
      <Txt x={1343} y={435} s={16.7} a="middle" r={-90}>Relative mRNA Levels</Txt>
      <Txt x={837} y={258} s={19} a="end">IFNβ</Txt>
      <Txt x={837} y={284} s={19} a="end">α-IFNα/β</Txt>
      <Txt x={837} y={545} s={19} a="end">IFNγ</Txt>
      <Txt x={837} y={572} s={19} a="end">α-IFNγ</Txt>
      <Txt x={1387} y={545} s={19} a="end">IL-29</Txt>
      <Txt x={1387} y={572} s={19} a="end">α-IL-29/28A</Txt>
      <Sq x={1701} y={132} s={12} k="w" label="Parental" tx={1717} fs={19} />
      <Sq x={1701} y={153} s={12} k="k" label="shCtrl" tx={1717} fs={19} />
      <Sq x={1701} y={174} s={12} k="c" label="shEZH2-4" tx={1717} fs={19} />
      <Sq x={1819} y={421} s={12} k="w" label="Parental" tx={1837} fs={19} />
      <Sq x={1819} y={446} s={12} k="k" label="shCtrl" tx={1837} fs={19} />
      <Sq x={1819} y={472} s={12} k="c" label="shEZH2-4" tx={1837} fs={19} />

      {/* D */}
      <Txt x={388} y={470} s={19.5} a="middle">H3K27me3 ChIP-seq in MCF-7</Txt>
      <line x1={76} x2={350} y1={494.3} y2={494.3} stroke="#000" strokeWidth={2.5} />
      <line x1={414} x2={685} y1={494.3} y2={494.3} stroke="#000" strokeWidth={2.5} />
      <polygon points="69,494.3 81,489 81,499.6" fill="#000" />
      <polygon points="692,494.3 680,489 680,499.6" fill="#000" />
      <Txt x={382} y={494.3} s={19} a="middle">505 kb</Txt>
      <Txt x={9} y={605} s={18} c="#8e2a8f">ChIP</Txt>
      <Txt x={9} y={634} s={18} c="#3a4da4">Input</Txt>
      <line x1={71} x2={71} y1={602} y2={646} stroke="#000" strokeWidth={3} />
      <line x1={70} x2={77} y1={603} y2={603} stroke="#000" strokeWidth={2} />
      <Txt x={66} y={602} s={15} a="end">5</Txt>
      <Txt x={66} y={644} s={15} a="end">0</Txt>

      {/* E / F */}
      <Txt x={231} y={708} s={19.5} a="middle">H3K27me3 ChIP in MCF-7</Txt>
      <Txt x={580} y={708} s={19.5} a="middle">H3K27me3 ChIP in MCF-7</Txt>
      {path('M83,738 V731.7 H378 V738')}
      {path('M461,738 V731.7 H695 V738')}
      <Sq x={98.7} y={748} s={10} k="k" label="shCtrl" tx={113} fs={16.5} />
      <Sq x={98.7} y={763.5} s={10} k="c" label="shEZH2-4" tx={113} fs={16.5} />
      <Sq x={98.7} y={779} s={10} k="s" label="shEZH2-A" tx={113} fs={16.5} />
      <Sq x={475.4} y={763} s={10} k="b" label="DMSO" tx={489} fs={16.5} />
      <Sq x={475.4} y={779} s={10} k="r" label="GSK126" tx={489} fs={16.5} />
      <Txt x={35} y={842} s={19} a="middle" r={-90}>Fold enrichment</Txt>
      <Txt x={55} y={842} s={19} a="middle" r={-90}>over input</Txt>
      <Txt x={415} y={842} s={19} a="middle" r={-90}>Fold enrichment</Txt>
      <Txt x={435} y={842} s={19} a="middle" r={-90}>over input</Txt>

      {/* G / H */}
      <Txt x={974} y={640} s={19.5} a="middle">MCF-7</Txt>
      {path('M788.7,662.7 V658.3 H1161 V662.7')}
      <Sq x={827} y={671} s={10} k="k" label="shCtrl" tx={844} fs={15.5} />
      <Sq x={827} y={685.5} s={10} k="c" label="shEZH2-4" tx={844} fs={15.5} />
      <Sq x={827} y={700} s={10} k="s" label="shEZH2-A" tx={844} fs={15.5} />
      <Sq x={1026} y={671} s={10} k="b" label="DMSO" tx={1041} fs={15.5} />
      <Sq x={1026} y={685.5} s={10} k="r" label="GSK126" tx={1041} fs={15.5} />
      <Sq x={1026} y={700} s={10} k="p" label="EPZ-6438" tx={1041} fs={15.5} />
      <Txt x={777} y={781} s={18.5} a="middle" r={-90}>Relative mRNA Levels</Txt>
      <Txt x={1521} y={640} s={19.5} a="middle">MCF-7</Txt>
      {path('M1252,661.7 V654 H1787.6 V661.7')}
      <Txt x={1240} y={748} s={19.5} a="middle" r={-90}>IFNβ (pg/mL)</Txt>
      <Txt x={1533} y={740} s={19.5} a="middle" r={-90}>IFNα2 (pg/mL)</Txt>

      {/* I */}
      <line x1={91} x2={130} y1={1030} y2={1030} stroke="#000" strokeWidth={2} />
      <circle cx={110.7} cy={1030} r={5.5} fill="#000" />
      <line x1={91} x2={130} y1={1048.3} y2={1048.3} stroke="#3d56a6" strokeWidth={2} />
      <rect x={105.2} y={1042.8} width={11} height={11} fill="#3d56a6" />
      <line x1={91} x2={130} y1={1066.7} y2={1066.7} stroke="#7f5aa8" strokeWidth={2} />
      <path d="M104.2,1071.7 L117.2,1071.7 L110.7,1060.2 Z" fill="#7f5aa8" />
      <Txt x={140} y={1030} s={17}>DMSO</Txt>
      <Txt x={140} y={1048.3} s={17}>IFNβ+DMSO</Txt>
      <Txt x={140} y={1066.7} s={17}>IFNβ+GSK126</Txt>
      <text x={35} y={1133} fontSize={19} textAnchor="middle" dominantBaseline="central" fontFamily={FONT} transform="rotate(-90 35 1133)">
        Cell Numbers (X10<tspan dy={-7} fontSize={13}>5</tspan><tspan dy={7}>)</tspan>
      </text>
      <Txt x={68} y={1261} s={19} a="middle">Days</Txt>

      {/* J */}
      <Sq x={489} y={1018.3} s={15} k="k" label="DMSO" tx={511} fs={18} />
      <Sq x={489} y={1036.7} s={15} k="b" label="IFNβ+DMSO" tx={511} fs={18} />
      <Sq x={489} y={1054} s={15} k="p" label="IFNβ+GSK126" tx={511} fs={18} />
      <Txt x={426} y={1145} s={19} a="middle" r={-90}>Relative mRNA Levels</Txt>
      {path('M45,1276.7 V1283.3 H833.3 V1276.7')}
      <Txt x={438} y={1298} s={20} a="middle">MCF-7</Txt>
    </svg>
  );
}

export default function App() {
  const eXs = eGroups.flatMap((_, g) => [0, 1, 2].map((j) => g * 3.92 + j));
  const eVals = eGroups.flatMap((_, g) => [eShCtrl[g], eSh4[g], eShA[g]]);
  const eErrs = eGroups.flatMap((_, g) => [eShCtrlErr[g], eSh4Err[g], eShAErr[g]]);
  const eKinds = eGroups.flatMap(() => ['k', 'c', 's']);
  const eV: Record<number, string> = {};
  eGroups.forEach((_, g) => { if (eP4[g]) eV[g * 3 + 1] = eP4[g]; if (ePA[g]) eV[g * 3 + 2] = ePA[g]; });

  const fXs = eGroups.flatMap((_, g) => [0, 1].map((j) => g * 3.4 + j));
  const fVals = eGroups.flatMap((_, g) => [fDmso[g], fGsk[g]]);
  const fErrs = eGroups.flatMap((_, g) => [fDmsoErr[g], fGskErr[g]]);
  const fKinds = eGroups.flatMap(() => ['b', 'r']);
  const fV: Record<number, string> = {};
  eGroups.forEach((_, g) => { if (fP[g]) fV[g * 2 + 1] = fP[g]; });

  const gKVals = gGenes.flatMap((_, g) => [gShCtrl[g], gSh4[g], gShA[g]]);
  const gKErrs = gGenes.flatMap((_, g) => [gShCtrlErr[g], gSh4Err[g], gShAErr[g]]);
  const gDVals = gGenes.flatMap((_, g) => [gDmso[g], gGsk[g], gEpz[g]]);
  const gDErrs = gGenes.flatMap((_, g) => [gDmsoErr[g], gGskErr[g], gEpzErr[g]]);

  const jXs = jGenes.flatMap((_, g) => [0, 1, 2].map((j) => g * 3.87 + j));
  const jVals = jGenes.flatMap((_, g) => [jDmso[g], jIfnDmso[g], jIfnGsk[g]]);
  const jErrs = jGenes.flatMap((_, g) => [jDmsoErr[g], jIfnDmsoErr[g], jIfnGskErr[g]]);
  const jKinds = jGenes.flatMap(() => ['k', 'b', 'p']);

  const catStyle = (size: number, italic: boolean) => ({ fontSize: size, fill: '#000', fontFamily: FONT, fontStyle: italic ? 'italic' : 'normal' });

  return (
    <div style={{ position: 'absolute', left: 0, top: 0, width: 1930, height: 1311, background: '#fff', overflow: 'hidden', fontFamily: FONT }}>
      <style>{'.recharts-surface{overflow:visible}'}</style>

      {/* A */}
      <Profile box={[81.7, 156.7, 320, 379]} xd={[-2.17, 2.16]} yd={[0.063, 3.948]} yt={[0.5, 1, 1.5, 2, 2.5, 3, 3.5]}
        ifn={k27Ifn} rand={k27Rand} none={k27None} />
      <Profile box={[374, 156.7, 611.6, 379]} xd={[-2.16, 2.15]} yd={[0.441, 1.853]} yt={[0.6, 0.8, 1, 1.2, 1.4, 1.6, 1.8]}
        ifn={ezIfn} rand={ezRand} none={ezNone} />

      {/* B */}
      <TreatPanel gap={1.72} box={[844.8, 179, 1017.8, 236.7]} xd={[-0.45, 6.35]} yd={[0, 45]} yt={[0, 15, 30, 45]}
        vals={bOas1} errs={bOas1Err} dash={[2.86, 0, 60]}
        ubox={[844.8, 74, 1017.8, 160]} uyd={[50, 350]} uyt={[50, 150, 250, 350]} ubr={bOas1P} udash={[2.86, 50, 350]} />
      <TreatPanel gap={1.72} box={[1066, 75, 1249.3, 237.3]} xd={[-0.83, 6.44]} yd={[0, 250]} yt={[0, 50, 100, 150, 200, 250]}
        vals={bIfit1} errs={bIfit1Err} br={bIfit1P} dash={[2.87, 0, 250]} />
      <TreatPanel gap={1.72} box={[1296.4, 156.7, 1469.8, 237.3]} xd={[-0.59, 6.38]} yd={[0, 6]} yt={[0, 2, 4, 6]}
        vals={bTap1} errs={bTap1Err} br={bTap1PLow} dash={[2.86, 0, 7.4]}
        ubox={[1296.4, 77.3, 1469.8, 137.7]} uyd={[10, 25]} uyt={[10, 15, 20, 25]} ubr={bTap1PUp} udash={[2.86, 10, 25]} />
      <TreatPanel gap={1.72} box={[1517.6, 76, 1696.6, 238.3]} xd={[-0.69, 6.38]} yd={[0, 18]} yt={[0, 6, 12, 18]}
        vals={bIrf9} errs={bIrf9Err} br={bIrf9P} dash={[2.84, 0, 18.2]} />

      {/* C */}
      <TreatPanel gap={2} box={[839, 348.3, 1015.1, 525]} xd={[-0.69, 6.64]} yd={[0, 40]} yt={[0, 10, 20, 30, 40]}
        vals={cOas1G} errs={cOas1GErr} br={cOas1GP} dash={[3.02, 0, 40.4]} />
      <TreatPanel gap={2} box={[1082, 351.7, 1256.2, 525.7]} xd={[-0.7, 6.65]} yd={[0, 100]} yt={[0, 20, 40, 60, 80, 100]}
        vals={cIfit1G} errs={cIfit1GErr} br={cIfit1GP} dash={[3.02, 0, 101]} />
      <TreatPanel gap={2} box={[1389.2, 347.3, 1565.8, 524.3]} xd={[-0.68, 6.65]} yd={[0, 50]} yt={[0, 10, 20, 30, 40, 50]}
        vals={cOas1L} errs={cOas1LErr} br={cOas1LP} dash={[2.98, 0, 50.1]} />
      <TreatPanel gap={2} box={[1629.3, 351.7, 1801.2, 525]} xd={[-0.66, 6.66]} yd={[0, 100]} yt={[0, 20, 40, 60, 80, 100]}
        vals={cIfit1L} errs={cIfit1LErr} br={cIfit1LP} dash={[3.01, 0, 100.4]} />

      {/* D */}
      <Track />

      {/* E / F */}
      <BarPlot box={[86, 762.7, 378, 916.7]} xs={eXs} xd={[-1.5, 23.24]} yd={[0, 25]} yt={[0, 5, 10, 15, 20, 25]} yFont={18}
        vals={eVals} errs={eErrs} kinds={eKinds} bw={10} vlab={eV} vGap={7}
        xt={eGroups.map((_, g) => g * 3.92 + 1)} tick={catStyle(20, false)} tickFmt={(v: any, i: number) => eGroups[i]} tickMargin={0} />
      <BarPlot box={[464, 762.7, 697.3, 917.7]} xs={fXs} xd={[-1.51, 19.13]} yd={[0, 25]} yt={[0, 5, 10, 15, 20, 25]} yFont={18}
        vals={fVals} errs={fErrs} kinds={fKinds} bw={10} vlab={fV} vGap={10}
        xt={eGroups.map((_, g) => g * 3.4 + 0.5)} tick={catStyle(20, false)} tickFmt={(v: any, i: number) => eGroups[i]} tickMargin={0} />

      {/* G */}
      <BarPlot box={[815.5, 721, 977.4, 867.3]} xs={[0, 1, 2, 3.9, 4.9, 5.9]} xd={[-1.31, 7.21]} yd={[0, 12]} yt={[0, 4, 8, 12]} yFont={14.5}
        vals={gKVals} errs={gKErrs} kinds={['k', 'c', 's', 'k', 'c', 's']} bw={16} br={gKnockP} pSize={16}
        xt={[1, 4.9]} tick={catStyle(19, true)} tickFmt={(v: any, i: number) => gGenes[i]} tickMargin={5} />
      <BarPlot box={[1012.6, 720, 1149.6, 867.3]} xs={[0, 1, 2, 3.4, 4.4, 5.4]} xd={[-1.19, 6.3]} yd={[0, 24]} yt={[0, 6, 12, 18, 24]} yFont={14.5}
        vals={gDVals} errs={gDErrs} kinds={['b', 'r', 'p', 'b', 'r', 'p']} bw={15} br={gDrugP} pSize={16}
        xt={[1, 4.4]} tick={catStyle(19, true)} tickFmt={(v: any, i: number) => gGenes[i]} tickMargin={5} />

      {/* H */}
      <BarPlot box={[1274.5, 684, 1381.6, 814]} xs={[0, 1, 2]} xd={[-0.79, 2.64]} yd={[0, 60]} yt={[0, 20, 40, 60]} yFont={14.5}
        vals={hIfnbKnock} errs={hIfnbKnockErr} kinds={['k', 'c', 's']} bw={21} br={hP1} pSize={16} tick={rotTick(hKnock)} />
      <BarPlot box={[1404.9, 679.3, 1498, 813.3]} xs={[0, 1]} xd={[-0.79, 1.65]} yd={[0, 40]} yt={[0, 10, 20, 30, 40]} yFont={14.5}
        vals={hIfnbDrug} errs={hIfnbDrugErr} kinds={['b', 'r']} bw={25} br={hP2} pSize={16} tick={rotTick(hDrug)} />
      <BarPlot box={[1552.5, 680, 1668, 813.3]} xs={[0, 1, 2]} xd={[-1.03, 2.59]} yd={[0, 12]} yt={[0, 4, 8, 12]} yFont={14.5}
        vals={hIfnaKnock} errs={hIfnaKnockErr} kinds={['k', 'c', 's']} bw={21} br={hP3} pSize={16} tick={rotTick(hKnock)} />
      <BarPlot box={[1691.2, 680, 1785.7, 813.3]} xs={[0, 1]} xd={[-0.85, 1.62]} yd={[0, 15]} yt={[0, 5, 10, 15]} yFont={14.5}
        vals={hIfnaDrug} errs={hIfnaDrugErr} kinds={['b', 'r']} bw={25} br={hP4} pSize={16} tick={rotTick(hDrug)} />

      {/* I */}
      <Growth />

      {/* J */}
      <BarPlot box={[480.7, 1153.3, 830, 1237.7]} xs={jXs} xd={[-1.23, 18.73]} yd={[0, 15]} yt={[0, 5, 10, 15]} yFont={14}
        vals={jVals} errs={jErrs} kinds={jKinds} bw={14} br={jPLow} pSize={16}
        xt={jGenes.map((_, g) => g * 3.87 + 1)} tick={catStyle(19, true)} tickFmt={(v: any, i: number) => jGenes[i]} tickMargin={7} />
      <BarPlot box={[480.7, 1045, 830, 1129.3]} xs={jXs} xd={[-1.23, 18.73]} yd={[20, 300]} yt={[20, 90, 160, 230, 300]} yFont={14}
        vals={jVals} errs={jErrs} kinds={jKinds} bw={14} br={jPUp} pSize={16} hideX />

      <Overlay />
    </div>
  );
}
